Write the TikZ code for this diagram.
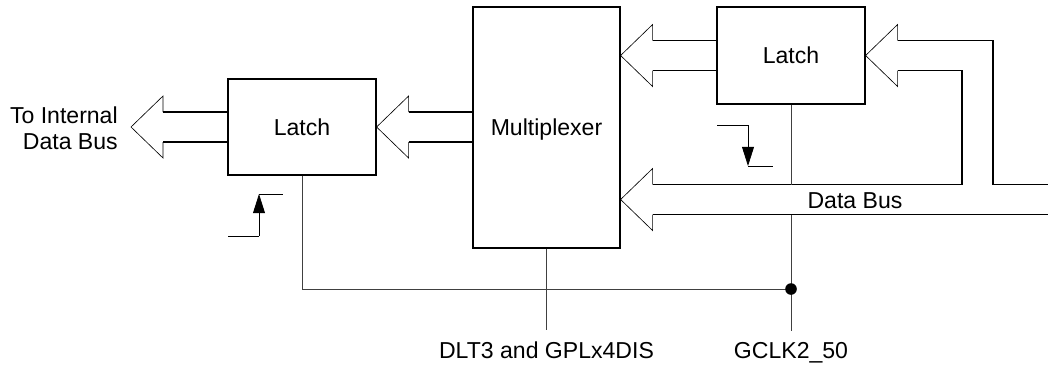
\documentclass[tikz,border=0pt]{standalone}
\usepackage{fontspec}
\setmainfont{Liberation Sans}
\usetikzlibrary{arrows.meta,positioning,calc}
\newcommand{\bushead}[1]{\draw[bushd] ($(#1)+(32,-15)$) -- ++(0,-16) -- (#1) -- ++(32,31) -- ++(0,-16);}

\begin{document}
\begin{tikzpicture}[
    x=0.25mm, y=-0.25mm,
    every node/.style={font=\fontsize{16.4pt}{18.4pt}\selectfont},
    blk/.style={rectangle, draw, line width=0.85pt, inner sep=0pt, text depth=0pt, align=center},
    bus/.style={line width=0.85pt},
    bushd/.style={line width=0.45pt},
    clk/.style={line width=0.5pt, black!75},
    edgeln/.style={line width=0.55pt},
    edgetip/.style={-{Triangle[length=4.8mm, width=3mm]}, line width=0.55pt},
    sig/.style={anchor=base, inner xsep=0pt, inner ysep=2.7mm}
]
    \useasboundingbox (0,0) rectangle (1048,364);

    \node[blk, minimum width=37mm, minimum height=24mm] (latchL) at (302,127) {Latch};
    \node[blk, minimum width=36.75mm, minimum height=60.25mm] (mux) at (546.5,127.5) {Multiplexer};
    \node[blk, minimum width=37mm, minimum height=24.25mm] (latchR) at (791,55.5) {Latch};

    \coordinate (toint) at (131,127);
    \coordinate (muxin1) at (mux.east |- latchR.west);
    \coordinate (muxin2) at ($(mux.east)+(0,72)$);
    \coordinate (clkrow) at (0,289);
    \coordinate (clkdot) at (latchR.south |- clkrow);

    \node[anchor=east, inner sep=0pt, align=right] (tolbl) at (118,128) {To Internal\\Data Bus};
    \node (dbus) at (855,201) {Data Bus};
    \node[sig] (dlt) at (mux.south |- 0,358) {DLT3 and GPLx4DIS};
    \node[sig] (gclk) at (clkdot |- 0,358) {GCLK2\_50};

    \bushead{toint}
    \draw[bus] ($(toint)+(32,-15)$) -- ($(latchL.west)+(0,-15)$);
    \draw[bus] ($(toint)+(32,15)$) -- ($(latchL.west)+(0,15)$);

    \bushead{latchL.east}
    \draw[bus] ($(latchL.east)+(32,-15)$) -- ($(latchL.east -| mux.west)+(0,-15)$);
    \draw[bus] ($(latchL.east)+(32,15)$) -- ($(latchL.east -| mux.west)+(0,15)$);

    \bushead{muxin1}
    \draw[bus] ($(muxin1)+(32,-15)$) -- ($(latchR.west)+(0,-15)$);
    \draw[bus] ($(muxin1)+(32,15)$) -- ($(latchR.west)+(0,15)$);

    \bushead{latchR.east}
    \draw[bus] ($(latchR.east)+(32,-15)$) -| (993,184.5) -- (1048,184.5);
    \draw[bus] ($(latchR.east)+(32,15)$) -| (962,184.5) -- ($(muxin2)+(32,-15)$);

    \bushead{muxin2}
    \draw[bus] ($(muxin2)+(32,15)$) -- (1048,214.5);

    \draw[clk] (latchR.south) -- (latchR.south |- 0,184.5);
    \draw[clk] (latchR.south |- 0,214.5) -- (gclk.north);
    \draw[clk] (latchL.south) |- (clkdot);
    \draw[clk] (mux.south) -- (dlt.north);
    \fill (clkdot) circle (1.45mm);

    \draw[edgeln] (228,236) -- (259,236);
    \draw[edgetip] (259,236) -- (259,194);
    \draw[edgeln] (259,194) -- (283,194);

    \draw[edgeln] (717,125) -- (748,125);
    \draw[edgetip] (748,125) -- (748,166);
    \draw[edgeln] (748,166) -- (773,166);
\end{tikzpicture}
\end{document}
